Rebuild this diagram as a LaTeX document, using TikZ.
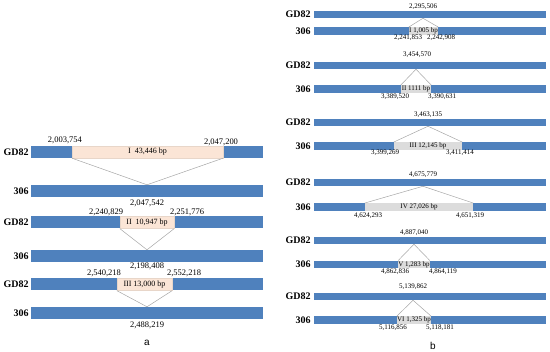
\documentclass[tikz,border=0pt]{standalone}
\usepackage{fontspec}
\setmainfont{Liberation Serif}
\newfontfamily\panelfont{Liberation Sans}
\usepackage{tikz}
\usetikzlibrary{positioning}

\definecolor{barblue}{HTML}{4F81BD}
\definecolor{peach}{HTML}{FBE5D6}
\definecolor{hlgray}{HTML}{DCDCDC}
\definecolor{linkgray}{HTML}{A6A6A6}

\begin{document}
\begin{tikzpicture}[x=1pt, y=-1pt,
  bar/.style={fill=barblue, inner sep=0pt, minimum width=232pt,
              minimum height=12pt},
  thinbar/.style={bar, minimum height=7.5pt},
  ins/.style={fill=peach, draw=peach!85!gray, line width=0.3pt, inner sep=0pt,
              minimum height=12pt, font=\fontsize{8}{9}\selectfont},
  insr/.style={fill=hlgray, inner sep=0pt, minimum height=7.5pt,
               font=\fontsize{7}{8}\selectfont},
  num/.style={inner sep=0pt, font=\fontsize{8.5}{10}\selectfont},
  numr/.style={inner sep=0pt, font=\fontsize{7}{8}\selectfont},
  tag/.style={inner sep=0pt, font=\fontsize{10}{11}\selectfont\bfseries},
  link/.style={draw=linkgray, line width=0.5pt},
]
  \useasboundingbox (0,0) rectangle (550,352);

  % a: deletion I
  \node[bar] (ga1) at (147,152) {};
  \node[ins, minimum width=151pt] (da1) at (147.5,152) {I\enspace 43,446 bp};
  \node[bar] (sa1) at (147,191) {};
  \node[tag, left=2pt of ga1] (tga1) {GD82};
  \node[tag, left=2pt of sa1] (tsa1) {306};
  \node[num] (na1) at (65,140) {2,003,754};
  \node[num] (nb1) at (221,142) {2,047,200};
  \node[num] (nc1) at (147,203) {2,047,542};
  \draw[link] (da1.south west) -- (sa1.north) -- (da1.south east);

  % a: deletion II
  \node[bar] (ga2) at (147,222.5) {};
  \node[ins, minimum width=54pt] (da2) at (147,222.5) {II\enspace 10,947 bp};
  \node[bar] (sa2) at (147,256) {};
  \node[tag, left=2pt of ga2] (tga2) {GD82};
  \node[tag, left=2pt of sa2] (tsa2) {306};
  \node[num] (na2) at (106,212) {2,240,829};
  \node[num] (nb2) at (187,212) {2,251,776};
  \node[num] (nc2) at (147,266) {2,198,408};
  \draw[link] (da2.south west) -- (sa2.north) -- (da2.south east);

  % a: deletion III
  \node[bar] (ga3) at (147,284.5) {};
  \node[ins, minimum width=55pt] (da3) at (144.5,284.5) {III 13,000 bp};
  \node[bar] (sa3) at (147,313) {};
  \node[tag, left=2pt of ga3] (tga3) {GD82};
  \node[tag, left=2pt of sa3] (tsa3) {306};
  \node[num] (na3) at (104,273) {2,540,218};
  \node[num] (nb3) at (184,273) {2,552,218};
  \node[num] (nc3) at (147,325) {2,488,219};
  \draw[link] (da3.south west) -- (sa3.north) -- (da3.south east);

  \node[font=\panelfont\fontsize{10}{11}\selectfont] (pa) at (147,343) {a};

  % b: insertion I
  \node[thinbar] (gb1) at (430,14.5) {};
  \node[thinbar] (sb1) at (430,31) {};
  \node[insr, minimum width=29pt] (hb1) at (423.5,31) {I 1,005 bp};
  \coordinate (cb1) at (423,18.25);
  \node[tag, left=3pt of gb1] (tgb1) {GD82};
  \node[tag, left=3pt of sb1] (tsb1) {306};
  \node[numr] (mb1) at (423,7) {2,295,506};
  \node[numr] (lb1) at (408,38) {2,241,853};
  \node[numr] (rb1) at (441,38) {2,242,908};
  \draw[link] (hb1.north west) -- (cb1) -- (hb1.north east);

  % b: insertion II
  \node[thinbar] (gb2) at (430,65.5) {};
  \node[thinbar] (sb2) at (430,89) {};
  \node[insr, minimum width=30pt] (hb2) at (416,89) {II 1111 bp};
  \coordinate (cb2) at (416,69.25);
  \node[tag, left=3pt of gb2] (tgb2) {GD82};
  \node[tag, left=3pt of sb2] (tsb2) {306};
  \node[numr] (mb2) at (417,55) {3,454,570};
  \node[numr] (lb2) at (395,97) {3,389,520};
  \node[numr] (rb2) at (442,97) {3,390,631};
  \draw[link] (hb2.north west) -- (cb2) -- (hb2.north east);

  % b: insertion III
  \node[thinbar] (gb3) at (430,122.5) {};
  \node[thinbar] (sb3) at (430,146) {};
  \node[insr, minimum width=68pt] (hb3) at (428,146) {III 12,145 bp};
  \coordinate (cb3) at (428,126.25);
  \node[tag, left=3pt of gb3] (tgb3) {GD82};
  \node[tag, left=3pt of sb3] (tsb3) {306};
  \node[numr] (mb3) at (428,115) {3,463,135};
  \node[numr] (lb3) at (385,153) {3,399,269};
  \node[numr] (rb3) at (460,153) {3,411,414};
  \draw[link] (hb3.north west) -- (cb3) -- (hb3.north east);

  % b: insertion IV
  \node[thinbar] (gb4) at (430,182.5) {};
  \node[thinbar] (sb4) at (430,207) {};
  \node[insr, minimum width=108pt] (hb4) at (419,207) {IV 27,026 bp};
  \coordinate (cb4) at (423,186.25);
  \node[tag, left=3pt of gb4] (tgb4) {GD82};
  \node[tag, left=3pt of sb4] (tsb4) {306};
  \node[numr] (mb4) at (423,175) {4,675,779};
  \node[numr] (lb4) at (368,216) {4,624,293};
  \node[numr] (rb4) at (470,216) {4,651,319};
  \draw[link] (hb4.north west) -- (cb4) -- (hb4.north east);

  % b: insertion V
  \node[thinbar] (gb5) at (430,240.5) {};
  \node[thinbar] (sb5) at (430,264.5) {};
  \node[insr, minimum width=30pt] (hb5) at (414,264.5) {V 1,283 bp};
  \coordinate (cb5) at (414,244.25);
  \node[tag, left=3pt of gb5] (tgb5) {GD82};
  \node[tag, left=3pt of sb5] (tsb5) {306};
  \node[numr] (mb5) at (414,233) {4,887,040};
  \node[numr] (lb5) at (395,272) {4,862,836};
  \node[numr] (rb5) at (443,272) {4,864,119};
  \draw[link] (hb5.north west) -- (cb5) -- (hb5.north east);

  % b: insertion VI
  \node[thinbar] (gb6) at (430,296.5) {};
  \node[thinbar] (sb6) at (430,320) {};
  \node[insr, minimum width=28pt] (hb6) at (414,320) {VI 1,325 bp};
  \coordinate (cb6) at (413,300.25);
  \node[tag, left=3pt of gb6] (tgb6) {GD82};
  \node[tag, left=3pt of sb6] (tsb6) {306};
  \node[numr] (mb6) at (413,287) {5,139,862};
  \node[numr] (lb6) at (393,328) {5,116,856};
  \node[numr] (rb6) at (440,328) {5,118,181};
  \draw[link] (hb6.north west) -- (cb6) -- (hb6.north east);

  \node[font=\panelfont\fontsize{10}{11}\selectfont] (pb) at (433,346) {b};
\end{tikzpicture}
\end{document}
